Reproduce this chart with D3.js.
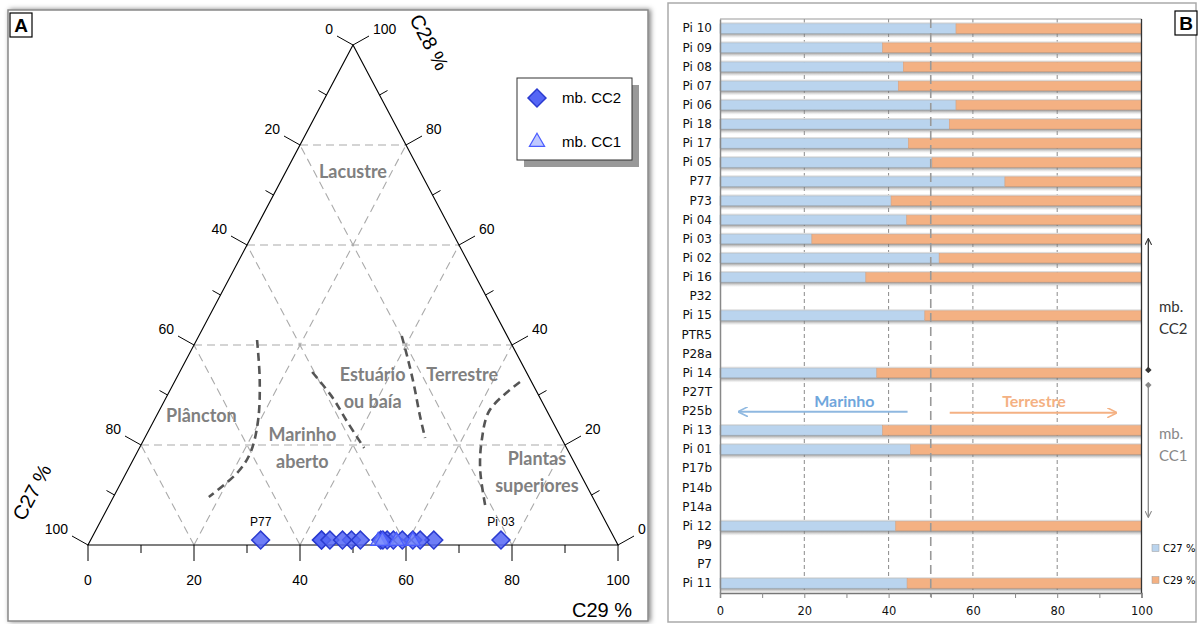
<!DOCTYPE html>
<html>
<head>
<meta charset="utf-8">
<script src="https://cdn.jsdelivr.net/npm/d3@7"></script>
<style>
body { margin: 0; background: #fff; }
svg { display: block; }
</style>
</head>
<body>
<svg width="1198" height="624"></svg>
<script>
// samples, top to bottom in panel B
var samples = ["Pi 10", "Pi 09", "Pi 08", "Pi 07", "Pi 06", "Pi 18", "Pi 17", "Pi 05", "P77", "P73",
	"Pi 04", "Pi 03", "Pi 02", "Pi 16", "P32", "Pi 15", "PTR5", "P28a", "Pi 14", "P27T",
	"P25b", "Pi 13", "Pi 01", "P17b", "P14b", "P14a", "Pi 12", "P9", "P7", "Pi 11"];
var c27 = [56.0, 38.6, 43.5, 42.3, 56.0, 54.4, 44.7, 50.3, 67.6, 40.6,
	44.3, 21.8, 52.0, 34.6, null, 48.6, null, null, 37.2, null,
	null, 38.6, 45.2, null, null, null, 41.7, null, null, 44.4];
var c29 = [44.0, 61.4, 56.5, 57.7, 44.0, 45.6, 55.3, 49.7, 32.4, 59.4,
	55.7, 78.2, 48.0, 65.4, null, 51.4, null, null, 62.8, null,
	null, 61.4, 54.8, null, null, null, 58.3, null, null, 55.6];
// C28 is almost nil: the points sit just above the base of the triangle
var c28 = [1, 1, 1, 1, 1, 1, 1, 1, 1, 1,
	1, 1, 1, 1, null, 1, null, null, 1, null,
	null, 1, 1, null, null, null, 1, null, null, 1];
var member = ["CC2", "CC2", "CC2", "CC2", "CC2", "CC2", "CC2", "CC2", "CC2", "CC2",
	"CC2", "CC2", "CC2", "CC2", null, "CC2", null, null, "CC2", null,
	null, "CC1", "CC1", null, null, null, "CC1", null, null, "CC1"];
var labelled = ["P77", "Pi 03"];

var ternTicks = [0, 20, 40, 60, 80, 100];
var ternMinor = [10, 30, 50, 70, 90];
var barTicks = [0, 10, 20, 30, 40, 50, 60, 70, 80, 90, 100];

// environment fields, in [C29, C28]
var regions = [
	{ lines: ["Lacustre"], c29: 12.7, c28: 74.6 },
	{ lines: ["Plâncton"], c29: 8.5, c28: 25.8 },
	{ lines: ["Marinho", "aberto"], c29: 30.8, c28: 19.3 },
	{ lines: ["Estuário", "ou baía"], c29: 38.0, c28: 31.4 },
	{ lines: ["Terrestre"], c29: 53.6, c28: 34.0 },
	{ lines: ["Plantas", "superiores"], c29: 77.4, c28: 14.6 }
];
var boundaries = [
	[[11.4, 41], [15.9, 33], [19.6, 25], [21.4, 18.6], [21.0, 14.6], [18.0, 9.6]],
	[[25.0, 34.6], [31.5, 29.4], [36.2, 25], [42.4, 19.4]],
	[[38.3, 41.8], [41.9, 37], [45.5, 32], [49.6, 26], [52.9, 21.4]],
	[[65.2, 32.6], [62.3, 27], [63.8, 21], [66.5, 15], [71.6, 7]]
];

var svg = d3.select("svg");
var defs = svg.append("defs");

var shadow = defs.append("filter").attr("id", "shadow")
	.attr("x", "-5%").attr("y", "-5%").attr("width", "110%").attr("height", "110%");
shadow.append("feDropShadow").attr("dx", 2).attr("dy", 0).attr("stdDeviation", 2.5)
	.attr("flood-color", "#000").attr("flood-opacity", 0.5);

var barShade = defs.append("linearGradient").attr("id", "barShade")
	.attr("x1", 0).attr("y1", 0).attr("x2", 0).attr("y2", 1);
barShade.append("stop").attr("offset", "0%").attr("stop-color", "#555").attr("stop-opacity", 0.9);
barShade.append("stop").attr("offset", "100%").attr("stop-color", "#bbb").attr("stop-opacity", 0);

// ---------- panel frames
svg.append("rect").attr("x", 8).attr("y", 10).attr("width", 640).attr("height", 611)
	.attr("fill", "#fff").attr("stroke", "#888").attr("stroke-width", 1.5)
	.attr("filter", "url(#shadow)");
svg.append("rect").attr("x", 668).attr("y", 3).attr("width", 528).attr("height", 619)
	.attr("fill", "#fff").attr("stroke", "#aaa").attr("stroke-width", 1.5);

function panelTag(x, y, txt) {
	svg.append("rect").attr("x", x).attr("y", y).attr("width", 22).attr("height", 24)
		.attr("fill", "#fff").attr("stroke", "#000").attr("stroke-width", 1.2);
	svg.append("text").attr("x", x + 11).attr("y", y + 19).attr("text-anchor", "middle")
		.style("font", "bold 19px 'Liberation Sans', Arial").text(txt);
}
panelTag(10, 13, "A");
panelTag(1175, 11, "B");

// ---------- A: ternary diagram
var tx = d3.scaleLinear().domain([0, 100]).range([88, 618]);
var ty = d3.scaleLinear().domain([0, 100]).range([545, 45]);
function proj(p29, p28) { return [tx(p29 + p28 / 2), ty(p28)]; }

var tern = svg.append("g");
var gridCol = "#aaa";

// grid: constant C28, constant C29, constant C27
[20, 40, 60, 80].forEach(function(v) {
	var lines = [
		[proj(0, v), proj(100 - v, v)],
		[proj(v, 0), proj(v, 100 - v)],
		[proj(100 - v, 0), proj(0, 100 - v)]
	];
	lines.forEach(function(l) {
		tern.append("line")
			.attr("x1", l[0][0]).attr("y1", l[0][1]).attr("x2", l[1][0]).attr("y2", l[1][1])
			.attr("stroke", gridCol).attr("stroke-width", 1.1).attr("stroke-dasharray", "8,5");
	});
});

// region labels
regions.forEach(function(r) {
	var p = proj(r.c29, r.c28);
	var n = r.lines.length;
	r.lines.forEach(function(t, i) {
		tern.append("text")
			.attr("x", p[0]).attr("y", p[1] + (i - (n - 1) / 2) * 27)
			.attr("dy", "0.35em").attr("text-anchor", "middle")
			.attr("fill", "#808080")
			.style("font", "bold 18px Lato, 'Open Sans', sans-serif")
			.text(t);
	});
});

// field boundaries
var bLine = d3.line().curve(d3.curveCatmullRom)
	.x(function(d) { return proj(d[0], d[1])[0]; })
	.y(function(d) { return proj(d[0], d[1])[1]; });
tern.selectAll(".bound").data(boundaries).enter().append("path")
	.attr("class", "bound")
	.attr("d", bLine)
	.attr("fill", "none").attr("stroke", "#555").attr("stroke-width", 2.6)
	.attr("stroke-dasharray", "8,5");

// triangle outline
var corners = [proj(0, 0), proj(100, 0), proj(0, 100)];
tern.append("path")
	.attr("d", "M" + corners.join("L") + "Z")
	.attr("fill", "none").attr("stroke", "#000").attr("stroke-width", 1.1);

// ticks
var tickFont = "14px 'Liberation Sans', Arial";
function tick(p, dx, dy) {
	tern.append("line").attr("x1", p[0]).attr("y1", p[1]).attr("x2", p[0] + dx).attr("y2", p[1] + dy)
		.attr("stroke", "#000");
}
ternTicks.forEach(function(v) {
	// base, C29
	var b = proj(v, 0);
	tick(b, 0, 16);
	tern.append("text").attr("x", b[0]).attr("y", b[1] + 40).attr("text-anchor", "middle")
		.style("font", tickFont).text(v);
	// left side, C27 (C28 = 100 - C27)
	var l = proj(0, 100 - v);
	tick(l, -16, -9);
	tern.append("text").attr("x", l[0] - 20).attr("y", l[1] - 11).attr("text-anchor", "end")
		.style("font", tickFont).text(v);
	// right side, C28
	var r = proj(100 - v, v);
	tick(r, 16, -9);
	tern.append("text").attr("x", r[0] + 20).attr("y", r[1] - 11).attr("text-anchor", "start")
		.style("font", tickFont).text(v);
});
ternMinor.forEach(function(v) {
	tick(proj(v, 0), 0, 8);
	tick(proj(0, v), -8, -4.5);
	tick(proj(100 - v, v), 8, -4.5);
});

// axis titles
var titleFont = "20px 'Liberation Sans', Arial";
tern.append("text").attr("transform", "translate(409,19) rotate(62)")
	.style("font", titleFont).text("C28 %");
tern.append("text").attr("transform", "translate(24,522) rotate(-62)")
	.style("font", titleFont).text("C27 %");
tern.append("text").attr("x", 572).attr("y", 617)
	.style("font", titleFont).text("C29 %");

// sample points
var diamond = d3.symbol().type(d3.symbolSquare).size(160);
var tri = d3.symbol().type(d3.symbolTriangle).size(100);
var pts = samples.map(function(s, i) {
	return { name: s, c27: c27[i], c28: c28[i], c29: c29[i], member: member[i] };
}).filter(function(d) { return d.c28 !== null; });

function ternPos(d) {
	var tot = d.c27 + d.c28 + d.c29;
	return proj(100 * d.c29 / tot, 100 * d.c28 / tot);
}

tern.selectAll(".cc2").data(pts.filter(function(d) { return d.member === "CC2"; }))
	.enter().append("path").attr("class", "cc2")
	.attr("d", diamond)
	.attr("transform", function(d) { var p = ternPos(d); return "translate(" + p + ") rotate(45)"; })
	.attr("fill", "#5566f5").attr("fill-opacity", 0.85)
	.attr("stroke", "#2b3bd0").attr("stroke-width", 1.5);

tern.selectAll(".cc1").data(pts.filter(function(d) { return d.member === "CC1"; }))
	.enter().append("path").attr("class", "cc1")
	.attr("d", tri)
	.attr("transform", function(d) { var p = ternPos(d); return "translate(" + p[0] + "," + (p[1] + 1) + ")"; })
	.attr("fill", "#8c9cff").attr("fill-opacity", 0.55)
	.attr("stroke", "#4a5cff").attr("stroke-width", 1.2);

tern.selectAll(".plab").data(pts.filter(function(d) { return labelled.indexOf(d.name) >= 0; }))
	.enter().append("text").attr("class", "plab")
	.attr("x", function(d) { return ternPos(d)[0]; })
	.attr("y", function(d) { return ternPos(d)[1] - 14; })
	.attr("text-anchor", "middle")
	.style("font", "12px 'Liberation Sans', Arial")
	.text(function(d) { return d.name; });

// legend
var leg = svg.append("g").attr("transform", "translate(517,78)");
leg.append("rect").attr("x", 7).attr("y", 7).attr("width", 115).attr("height", 82).attr("fill", "#999");
leg.append("rect").attr("width", 115).attr("height", 82)
	.attr("fill", "#fff").attr("stroke", "#333").attr("stroke-width", 1);
leg.append("path").attr("d", diamond).attr("transform", "translate(20,20) rotate(45)")
	.attr("fill", "#5566f5").attr("stroke", "#2b3bd0").attr("stroke-width", 1.5);
leg.append("path").attr("d", tri).attr("transform", "translate(20,64)")
	.attr("fill", "#8c9cff").attr("fill-opacity", 0.55)
	.attr("stroke", "#4a5cff").attr("stroke-width", 1.2);
leg.append("text").attr("x", 45).attr("y", 25).style("font", "15px 'Liberation Sans', Arial").text("mb. CC2");
leg.append("text").attr("x", 45).attr("y", 69).style("font", "15px 'Liberation Sans', Arial").text("mb. CC1");

// ---------- B: stacked bars
var bx = d3.scaleLinear().domain([0, 100]).range([720, 1141.5]);
var by = d3.scaleBand().domain(samples).range([19, 593]);
var bar = svg.append("g");
var blue = "#bad4ee", orange = "#f4b183";
var axisFont = "11.5px 'DejaVu Sans', Verdana, sans-serif";

// grid lines
bar.selectAll(".grid").data([20, 40, 60, 80]).enter().append("line")
	.attr("x1", function(d) { return bx(d); }).attr("x2", function(d) { return bx(d); })
	.attr("y1", 19).attr("y2", 593)
	.attr("stroke", "#8a8a8a").attr("stroke-width", 1).attr("stroke-dasharray", "4,3");

var rows = samples.map(function(s, i) { return { name: s, c27: c27[i], c29: c29[i] }; })
	.filter(function(d) { return d.c27 !== null; });
var bh = 9.5;
var rowG = bar.selectAll(".row").data(rows).enter().append("g").attr("class", "row")
	.attr("transform", function(d) { return "translate(0," + (by(d.name) + by.bandwidth() / 2) + ")"; });
rowG.append("rect").attr("x", bx(0)).attr("y", bh / 2 - 1).attr("width", bx(100) - bx(0)).attr("height", 6)
	.attr("fill", "url(#barShade)");
rowG.append("rect").attr("x", bx(0)).attr("y", -bh / 2 - 1.5).attr("width", bx(100) - bx(0)).attr("height", 1.5)
	.attr("fill", "#ddd");
rowG.append("rect").attr("x", bx(0)).attr("y", -bh / 2)
	.attr("width", function(d) { return bx(d.c27) - bx(0); }).attr("height", bh)
	.attr("fill", blue).attr("stroke", "#a9bccd").attr("stroke-width", 0.6);
rowG.append("rect").attr("x", function(d) { return bx(d.c27); }).attr("y", -bh / 2)
	.attr("width", function(d) { return bx(d.c27 + d.c29) - bx(d.c27); }).attr("height", bh)
	.attr("fill", orange).attr("stroke", "#d9a27e").attr("stroke-width", 0.6);

// 50 % divide
bar.append("line").attr("x1", bx(50)).attr("x2", bx(50)).attr("y1", 19).attr("y2", 597)
	.attr("stroke", "#999").attr("stroke-width", 1.6).attr("stroke-dasharray", "9,5");

// frame lines
bar.append("line").attr("x1", bx(0)).attr("x2", bx(100)).attr("y1", 19).attr("y2", 19)
	.attr("stroke", "#999");
bar.append("line").attr("x1", bx(100)).attr("x2", bx(100)).attr("y1", 19).attr("y2", 593)
	.attr("stroke", "#333").attr("stroke-width", 1.3);

var xAxis = bar.append("g").attr("transform", "translate(0,593)")
	.call(d3.axisBottom(bx).tickValues(barTicks).tickSize(5)
		.tickFormat(function(d) { return d % 20 === 0 ? d : ""; }));
xAxis.select(".domain").attr("stroke", "#777").attr("stroke-width", 1.5);
xAxis.selectAll(".tick line").attr("stroke", "#888");
xAxis.selectAll("text").style("font", axisFont).attr("fill", "#111").attr("dy", "1.25em");

var yAxis = bar.append("g").attr("transform", "translate(720,0)")
	.call(d3.axisLeft(by).tickSize(0).tickPadding(8));
yAxis.select(".domain").attr("stroke", "#888").attr("stroke-width", 1.5);
yAxis.selectAll("text").style("font", "12px 'DejaVu Sans', Verdana, sans-serif").attr("fill", "#111");

// direction arrows
function marker(id, col, orient) {
	defs.append("marker").attr("id", id).attr("viewBox", "0 0 10 10").attr("refX", 9).attr("refY", 5)
		.attr("markerWidth", 5).attr("markerHeight", 5).attr("orient", orient || "auto")
		.append("path").attr("d", "M0,0L10,5L0,10").attr("fill", "none").attr("stroke", col).attr("stroke-width", 1.6);
}
function dmarker(id, col) {
	defs.append("marker").attr("id", id).attr("viewBox", "0 0 10 10").attr("refX", 5).attr("refY", 5)
		.attr("markerWidth", 5).attr("markerHeight", 5)
		.append("path").attr("d", "M5,0L10,5L5,10L0,5Z").attr("fill", col);
}
marker("aBlue", "#8fb8e0");
marker("aOrange", "#f4b183");
marker("aDark", "#333");
marker("aGray", "#888");
dmarker("dDark", "#333");
dmarker("dGray", "#888");

var yMid = by("P25b") + by.bandwidth() / 2;
bar.append("line").attr("x1", bx(44.5)).attr("x2", bx(4.5)).attr("y1", yMid + 0.5).attr("y2", yMid + 0.5)
	.attr("stroke", "#8fb8e0").attr("stroke-width", 2).attr("marker-end", "url(#aBlue)");
bar.append("text").attr("x", bx(29.5)).attr("y", yMid - 10).attr("dy", "0.35em").attr("text-anchor", "middle")
	.attr("fill", "#6fa6dc").style("font", "bold 16px Lato, sans-serif").text("Marinho");
bar.append("line").attr("x1", bx(54.5)).attr("x2", bx(94)).attr("y1", yMid + 1.5).attr("y2", yMid + 1.5)
	.attr("stroke", "#f4b183").attr("stroke-width", 2).attr("marker-end", "url(#aOrange)");
bar.append("text").attr("x", bx(74.5)).attr("y", yMid - 10).attr("dy", "0.35em").attr("text-anchor", "middle")
	.attr("fill", "#f4b183").style("font", "bold 16px Lato, sans-serif").text("Terrestre");

// member brackets
var ax = 1148.3;
bar.append("line").attr("x1", ax).attr("x2", ax)
	.attr("y1", by("Pi 14") + by.bandwidth() / 2 - 3).attr("y2", by("Pi 03") + by.bandwidth() / 2)
	.attr("stroke", "#333").attr("stroke-width", 1.3)
	.attr("marker-start", "url(#dDark)").attr("marker-end", "url(#aDark)");
bar.append("line").attr("x1", ax).attr("x2", ax)
	.attr("y1", by("P27T") + by.bandwidth() / 2 - 7).attr("y2", by("P14a") + by.bandwidth() / 2 + 10)
	.attr("stroke", "#888").attr("stroke-width", 1.3)
	.attr("marker-start", "url(#dGray)").attr("marker-end", "url(#aGray)");
var memFont = "15px Lato, 'Open Sans', sans-serif";
[["mb.", 307, "#333"], ["CC2", 329, "#333"], ["mb.", 434, "#888"], ["CC1", 456, "#888"]].forEach(function(m) {
	bar.append("text").attr("x", 1159).attr("y", m[1]).attr("dy", "0.35em").attr("fill", m[2])
		.style("font", memFont).text(m[0]);
});

// legend
var series = [["C27 %", blue], ["C29 %", orange]];
series.forEach(function(s, i) {
	var yy = 548 + i * 32;
	bar.append("rect").attr("x", 1152).attr("y", yy - 3.5).attr("width", 7).attr("height", 7)
		.attr("fill", s[1]).attr("stroke", "#999").attr("stroke-width", 0.5);
	bar.append("text").attr("x", 1163).attr("y", yy).attr("dy", "0.35em")
		.style("font", "10px 'DejaVu Sans', Verdana, sans-serif").text(s[0]);
});
</script>
</body>
</html>
